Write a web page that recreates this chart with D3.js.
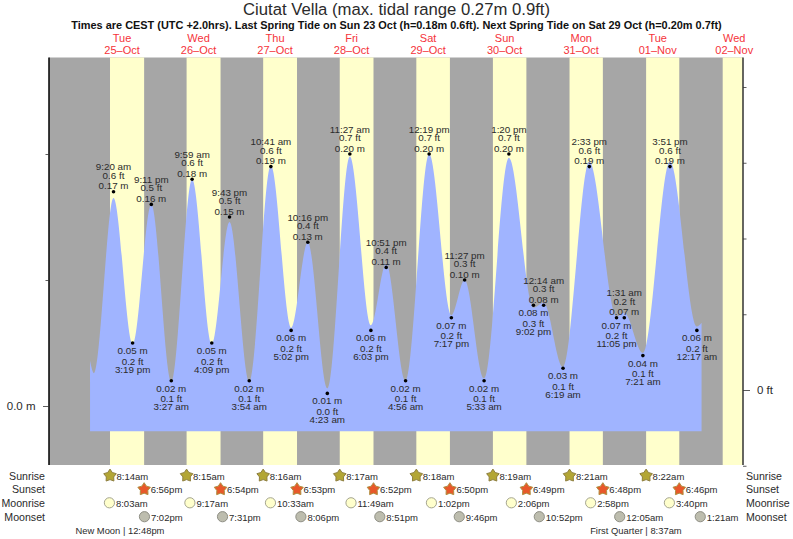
<!DOCTYPE html>
<html><head><meta charset="utf-8">
<script src="https://cdn.jsdelivr.net/npm/d3@7"></script>
<style>html,body{margin:0;padding:0;background:#fff}svg{display:block}text{font-family:"Liberation Sans",Arial,sans-serif}</style>
</head><body><div id="c"></div>
<script>
const titleText = "Ciutat Vella (max. tidal range 0.27m 0.9ft)";
const subtitleText = "Times are CEST (UTC +2.0hrs). Last Spring Tide on Sun 23 Oct (h=0.18m 0.6ft). Next Spring Tide on Sat 29 Oct (h=0.20m 0.7ft)";
const dayNoons = ["2022-10-25 12:00","2022-10-26 12:00","2022-10-27 12:00","2022-10-28 12:00","2022-10-29 12:00","2022-10-30 12:00","2022-10-31 12:00","2022-11-01 12:00","2022-11-02 12:00"];
const dayNames = ["Tue","Wed","Thu","Fri","Sat","Sun","Mon","Tue","Wed"];
const dayDates = ["25–Oct","26–Oct","27–Oct","28–Oct","29–Oct","30–Oct","31–Oct","01–Nov","02–Nov"];

const tideTimes = ["2022-10-25 09:20","2022-10-25 15:19","2022-10-25 21:11","2022-10-26 03:27","2022-10-26 09:59","2022-10-26 16:09","2022-10-26 21:43","2022-10-27 03:54","2022-10-27 10:41","2022-10-27 17:02","2022-10-27 22:16","2022-10-28 04:23","2022-10-28 11:27","2022-10-28 18:03","2022-10-28 22:51","2022-10-29 04:56","2022-10-29 12:19","2022-10-29 19:17","2022-10-29 23:27","2022-10-30 05:33","2022-10-30 13:20","2022-10-30 21:02","2022-10-31 00:14","2022-10-31 06:19","2022-10-31 14:33","2022-10-31 23:05","2022-11-01 01:31","2022-11-01 07:21","2022-11-01 15:51","2022-11-02 00:17"];
const tideMeters = [0.17,0.05,0.16,0.02,0.18,0.05,0.15,0.02,0.19,0.06,0.13,0.01,0.20,0.06,0.11,0.02,0.20,0.07,0.10,0.02,0.20,0.08,0.08,0.03,0.19,0.07,0.07,0.04,0.19,0.06];
const tideFeet = ["0.6","0.2","0.5","0.1","0.6","0.2","0.5","0.1","0.6","0.2","0.4","0.0","0.7","0.2","0.4","0.1","0.7","0.2","0.3","0.1","0.7","0.3","0.3","0.1","0.6","0.2","0.2","0.1","0.6","0.2"];

// Height of the drawn water curve at its turning points
const curveTimes = ["2022-10-25 01:58","2022-10-25 03:14"].concat(tideTimes,["2022-11-02 01:45"]);
const curveMeters = [0.036,0.026,0.165,0.049,0.160,0.019,0.180,0.049,0.146,0.019,0.191,0.062,0.130,0.014,0.198,0.064,0.113,0.020,0.200,0.072,0.100,0.022,0.197,0.078,0.082,0.031,0.194,0.071,0.074,0.042,0.194,0.063,0.066];
const curveFloor = -0.02;

const sunrises = ["2022-10-25 08:14","2022-10-26 08:15","2022-10-27 08:16","2022-10-28 08:17","2022-10-29 08:18","2022-10-30 08:19","2022-10-31 08:21","2022-11-01 08:22"];
const sunsets = ["2022-10-25 18:56","2022-10-26 18:54","2022-10-27 18:53","2022-10-28 18:52","2022-10-29 18:50","2022-10-30 18:49","2022-10-31 18:48","2022-11-01 18:46"];
const finalSunrise = "2022-11-02 08:23";
const moonrises = ["2022-10-25 08:03","2022-10-26 09:17","2022-10-27 10:33","2022-10-28 11:49","2022-10-29 13:02","2022-10-30 14:06","2022-10-31 14:58","2022-11-01 15:40"];
const moonsets = ["2022-10-25 19:02","2022-10-26 19:31","2022-10-27 20:06","2022-10-28 20:51","2022-10-29 21:46","2022-10-30 22:52","2022-11-01 00:05","2022-11-02 01:21"];
const phaseNames = ["New Moon | 12:48pm","First Quarter | 8:37am"];
const phaseTimes = ["2022-10-25 12:48","2022-11-01 08:37"];
const rowNames = ["Sunrise","Sunset","Moonrise","Moonset"];
const meterTicks = [0,0.1,0.2];
const feetTicks = [-0.2,0,0.2,0.4,0.6,0.8];

const W=793,H=539, L=49,R=743,T=57.5,B=465;
const parse=d3.utcParse("%Y-%m-%d %H:%M");
const x=d3.scaleUtc().domain([parse("2022-10-24 13:06"),parse("2022-11-02 14:45")]).range([L,R]);
const y=d3.scaleLinear().domain([-59/1260,348.5/1260]).range([B,T]);
const yFt=d3.scaleLinear().domain([-75/378.75,332.5/378.75]).range([B,T]);
const svg=d3.select("#c").append("svg").attr("width",W).attr("height",H);
const ink="#2b2b2b";

svg.append("text").attr("x",396.5).attr("y",15).attr("text-anchor","middle").attr("font-size",16.7).attr("fill",ink).text(titleText);
svg.append("text").attr("x",396.5).attr("y",29).attr("text-anchor","middle").attr("font-size",10.93).attr("font-weight","bold").attr("fill","#111").text(subtitleText);

const days=svg.append("g").attr("text-anchor","middle").attr("font-size",11).attr("fill","#f5333a");
days.selectAll("text.n").data(dayNoons).join("text").attr("class","n").attr("x",d=>x(parse(d))).attr("y",42).text((d,i)=>dayNames[i]);
days.selectAll("text.d").data(dayNoons).join("text").attr("class","d").attr("x",d=>x(parse(d))).attr("y",53.5).text((d,i)=>dayDates[i]);

svg.append("rect").attr("x",L).attr("y",T).attr("width",R-L).attr("height",B-T).attr("fill","#a6a6a6");
svg.append("g").selectAll("rect").data(sunrises).join("rect")
 .attr("x",d=>x(parse(d))).attr("y",T).attr("height",B-T)
 .attr("width",(d,i)=>x(parse(sunsets[i]))-x(parse(d))).attr("fill","#ffffcc");
svg.append("rect").attr("x",x(parse(finalSunrise))).attr("y",T).attr("height",B-T).attr("width",R-x(parse(finalSunrise))).attr("fill","#ffffcc");

const curvePts=curveTimes.map((t,i)=>[parse(t),curveMeters[i]]);
svg.append("path").datum(curvePts).attr("fill","#a0b4ff")
 .attr("d",d3.area().x(d=>x(d[0])).y0(y(curveFloor)).y1(d=>y(d[1])).curve(d3.curveMonotoneX));

const lAxis=svg.append("g").attr("transform",`translate(${L},0)`).call(d3.axisLeft(y).tickValues(meterTicks).tickFormat(d=>d===0?"0.0 m":"").tickSize(3.5).tickPadding(10));
const rAxis=svg.append("g").attr("transform",`translate(${R},0)`).call(d3.axisRight(yFt).tickValues(feetTicks).tickFormat(d=>d===0?"0 ft":"").tickSize(3.5).tickPadding(10.5));
lAxis.select(".domain").attr("stroke","#000").attr("stroke-width",1.5).attr("d",`M0,${T}V${B}`);
rAxis.select(".domain").attr("stroke","#333").attr("stroke-width",1.5).attr("d",`M0,${T}V${B}`);
[lAxis,rAxis].forEach(a=>{a.selectAll("text").attr("font-size",11.5).attr("fill",ink).attr("font-family",'"Liberation Sans"');a.selectAll("line").attr("stroke","#333").attr("stroke-width",0.8);});
lAxis.selectAll(".tick").filter(d=>d===0).select("line").attr("x2",-6);
rAxis.selectAll(".tick").filter(d=>d===0).select("line").attr("x2",7);

const fmt12=t=>d3.utcFormat("%-I:%M %p")(t).toLowerCase();
const tide=svg.append("g").attr("text-anchor","middle").attr("font-size",9.8).attr("fill",ink);
tideTimes.forEach((t,i)=>{
  const d=parse(t),px=x(d),py=y(tideMeters[i]),hi=i%2===0;
  tide.append("circle").attr("cx",px).attr("cy",py).attr("r",1.8).attr("fill","#000");
  const lines=[fmt12(d),tideFeet[i]+" ft",tideMeters[i].toFixed(2)+" m"];
  const off=hi?[-21.5,-13,-2.5]:[29.5,21.5,11];
  lines.forEach((s,k)=>tide.append("text").attr("x",px).attr("y",py+off[k]).text(s));
});

const rowY=[475.7,489.3,502.8,516.7];
const rowBase=[479.5,493.3,507,520.5];
const rows=svg.append("g").attr("font-size",10.6).attr("fill",ink);
rowNames.forEach((n,i)=>{
  rows.append("text").attr("x",45).attr("y",rowBase[i]).attr("text-anchor","end").text(n);
  rows.append("text").attr("x",746).attr("y",rowBase[i]).text(n);
});
const fmtIcon=t=>d3.utcFormat("%-I:%M%p")(t).toLowerCase();
const starPts=d3.range(10).map(k=>[k*Math.PI/5, k%2?3.9:6.6]);
const star=d3.lineRadial().curve(d3.curveLinearClosed);
function iconRow(data,i,draw){
  const g=svg.append("g");
  data.forEach(t=>{
    const d=parse(t),px=x(d);
    draw(g,px,rowY[i]);
    g.append("text").attr("x",px+6.5).attr("y",rowBase[i]).attr("font-size",9.5).attr("fill",ink).text(fmtIcon(d));
  });
}
iconRow(sunrises,0,(g,px,py)=>g.append("path").attr("d",star(starPts)).attr("transform",`translate(${px},${py})`).attr("fill","#b3a635").attr("stroke","#8f8040").attr("stroke-width",1));
iconRow(sunsets,1,(g,px,py)=>g.append("path").attr("d",star(starPts)).attr("transform",`translate(${px},${py})`).attr("fill","#e8582a").attr("stroke","#b09040").attr("stroke-width",1));
iconRow(moonrises,2,(g,px,py)=>g.append("circle").attr("cx",px).attr("cy",py).attr("r",5.1).attr("fill","#ffffcc").attr("stroke","#a5a590").attr("stroke-width",1));
iconRow(moonsets,3,(g,px,py)=>g.append("circle").attr("cx",px).attr("cy",py).attr("r",5.1).attr("fill","#bdbdae").attr("stroke","#8f8f85").attr("stroke-width",1));

const phaseShift=[-4.6,-11];
svg.append("g").attr("text-anchor","middle").attr("font-size",9.4).attr("fill",ink)
 .selectAll("text").data(phaseTimes).join("text")
 .attr("x",(d,i)=>x(parse(d))+phaseShift[i]).attr("y",534).text((d,i)=>phaseNames[i]);
</script></body></html>
